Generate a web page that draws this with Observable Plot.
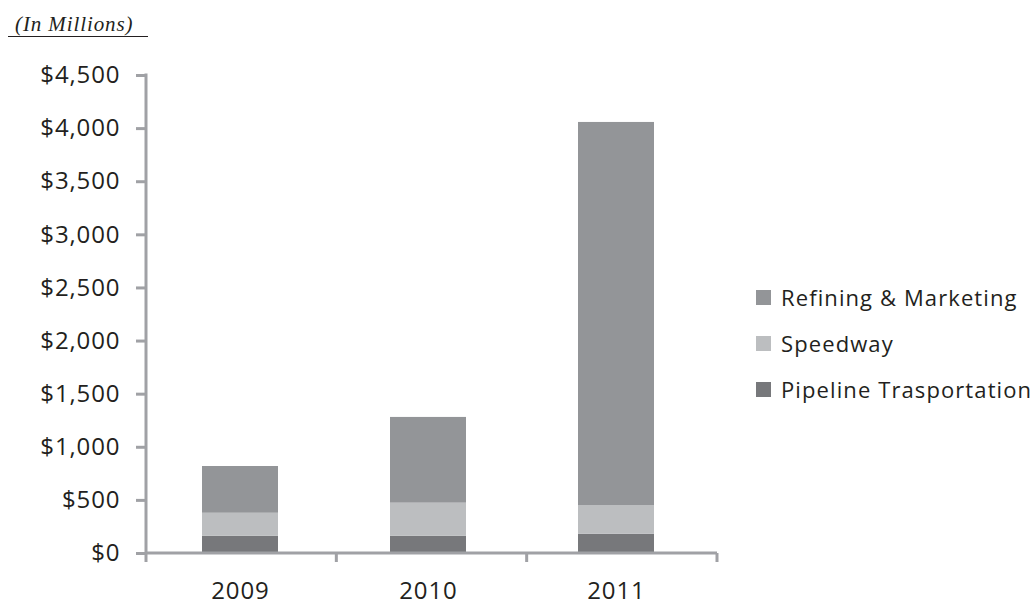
<!DOCTYPE html>
<html>
<head>
<meta charset="utf-8">
<script src="https://cdn.jsdelivr.net/npm/d3@7"></script>
<script src="https://cdn.jsdelivr.net/npm/@observablehq/plot@0.6"></script>
<style>
  html, body { margin: 0; padding: 0; background: #fff; }
  #wrap { position: relative; width: 1034px; height: 606px; overflow: hidden; }
  #title { position: absolute; left: 8px; top: 13px; width: 127px; padding: 0 6px 0 7px; font-family: "Liberation Serif", serif; font-style: italic; font-size: 21px; letter-spacing: 0.9px; line-height: 23px; color: #231f20; border-bottom: 1.6px solid #231f20; white-space: nowrap; }
  #legend { position: absolute; left: 756px; top: 0; font-family: "Open Sans", sans-serif; font-size: 22px; letter-spacing: 1.1px; color: #231f20; white-space: nowrap; }
  .row { position: absolute; left: 0; height: 24px; display: flex; align-items: center; }
  .sw { width: 15px; height: 15px; margin-right: 10px; }
  #chart { position: absolute; left: 0; top: 0; }
</style>
</head>
<body>
<div id="wrap">
  <div id="chart"></div>
  <div id="title">(In Millions)</div>
  <div id="legend"></div>
</div>
<script>
const years = ["2009", "2010", "2011"];
const seriesNames = ["Pipeline Trasportation", "Speedway", "Refining & Marketing"];
const pipeline = [163, 163, 182];
const speedway = [216, 311, 270];
const refining = [440, 807, 3606];
const yTicks = [0, 500, 1000, 1500, 2000, 2500, 3000, 3500, 4000, 4500];
const colors = ["#77787b", "#bcbec0", "#939598"];
const legendOrder = ["Refining & Marketing", "Speedway", "Pipeline Trasportation"];

const valuesBySeries = [pipeline, speedway, refining];
const data = [];
years.forEach((y, i) => {
  seriesNames.forEach((s, j) => data.push({year: y, series: s, value: valuesBySeries[j][i]}));
});

const axisColor = "#a0a1a5";
const chart = Plot.plot({
  width: 1034,
  height: 606,
  marginLeft: 146,
  marginRight: 317,
  marginTop: 75,
  marginBottom: 53,
  style: {fontFamily: "'Open Sans', sans-serif", fontSize: "24px", letterSpacing: "0.9px", color: "#231f20", background: "transparent", overflow: "visible"},
  x: {domain: years, paddingInner: 0.596, paddingOuter: 0.3165, align: 0.47, label: null},
  y: {domain: [0, 4500], label: null},
  color: {domain: seriesNames, range: colors},
  marks: [
    Plot.barY(data, {x: "year", y: "value", fill: "series", order: seriesNames}),
    Plot.axisY(yTicks, {tickSize: 10, tickPadding: 16, stroke: axisColor, strokeWidth: 3, fill: "#231f20",
      tickFormat: d => "$" + d3.format(",")(d), label: null}),
    Plot.axisX({tickSize: 0, tickPadding: 28, fill: "#231f20", label: null})
  ]
});
document.getElementById("chart").appendChild(chart);

// axis lines and category boundary ticks, from Plot's own scales
const xs = chart.scale("x");
const ys = chart.scale("y");
const svg = d3.select(chart);
const x0 = xs.range[0], x1 = xs.range[1];
const yb = ys.apply(0), yt = ys.apply(4500);
const g = svg.append("g").attr("stroke", axisColor).attr("stroke-width", 3).attr("fill", "none");
g.append("line").attr("x1", x0).attr("x2", x0).attr("y1", yt - 1.5).attr("y2", yb);
g.append("line").attr("x1", x0).attr("x2", x1).attr("y1", yb).attr("y2", yb);
d3.range(years.length + 1).forEach(i => {
  const x = x0 + i * (x1 - x0) / years.length;
  g.append("line").attr("x1", x).attr("x2", x).attr("y1", yb).attr("y2", yb + 9);
});

// legend
const leg = document.getElementById("legend");
const rowTops = [285, 331, 377];
legendOrder.forEach((name, k) => {
  const row = document.createElement("div");
  row.className = "row";
  row.style.top = rowTops[k] + "px";
  const sw = document.createElement("div");
  sw.className = "sw";
  sw.style.background = colors[seriesNames.indexOf(name)];
  const t = document.createElement("span");
  t.textContent = name;
  row.appendChild(sw); row.appendChild(t);
  leg.appendChild(row);
});
</script>
</body>
</html>
